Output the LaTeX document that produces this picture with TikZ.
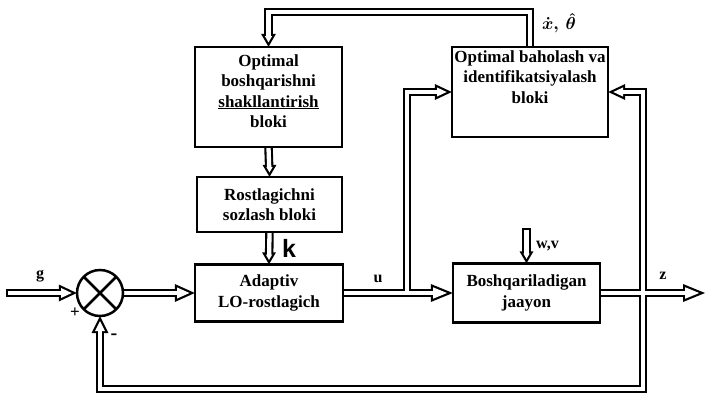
\documentclass[tikz,border=0pt]{standalone}
\usepackage{fontspec}
\setmainfont{Liberation Serif}
\setsansfont{Liberation Sans}
\usetikzlibrary{calc}
\newif\ifblackpass
% arrow head: #1 tip point, #2 canvas angle, #3 length, #4 half width
\newcommand\hd[4]{%
  \begin{scope}[shift={(#1)},rotate=#2]
    \ifblackpass
      \fill[black] (0,0) -- (-#3,#4) -- (-#3,-#4) -- cycle;
    \else
      \pgfmathsetmacro\al{atan(#4/#3)}%
      \pgfmathsetmacro\tb{\dd/sin(\al)}%
      \pgfmathsetmacro\bx{#3-\dd}%
      \pgfmathsetmacro\hw{\bx*#4/#3-\dd/cos(\al)}%
      \fill[white] (-\tb,0) -- (-\bx,\hw) -- (-\bx,-\hw) -- cycle;
    \fi
  \end{scope}}
\newcommand\wires{%
  \draw[ahb,cstart] (gin) -- (sum.west);
  \draw[ahb] (sum.east) -- (adapt.west);
  \draw[ahb] (adapt.east) -- (plant.west);
  \draw[ahb] (j1) |- (opte.west);
  \draw[ahb] (plant.east) -- (zout);
  \draw[ahb] (j2) |- (opte.east);
  \draw[ahb] (j2) -- (j2 |- fb) -- (fb) -- (sum.south);
  \draw[ahs] (opte.north) -- (opte.north |- top) -| (optc.north);
  \draw[ahs] (optc.south) -- (rost.north);
  \draw[ahs] (rost.south) -- (adapt.north);
  \draw[ahs,cstart] (wv) -- (plant.north);
}
\newcommand\heads{%
  \hd{sum.west}{0}{18}{8.5}
  \hd{adapt.west}{0}{20}{9}
  \hd{plant.west}{0}{22}{9}
  \hd{opte.west}{0}{17}{8}
  \hd{zout}{0}{22}{9}
  \hd{opte.east}{180}{17}{8}
  \hd{sum.south}{90}{17}{8.5}
  \hd{optc.north}{-90}{13}{7.5}
  \hd{rost.north}{-90}{12}{7}
  \hd{adapt.north}{-90}{12}{7}
  \hd{plant.north}{-90}{12}{7}
}
\tikzset{
  blk/.style={line width=8.5pt, black},
  wht/.style={line width=4.3pt, white},
  ahb/.style={shorten >=\sB pt},
  ahs/.style={shorten >=\sS pt},
  cstart/.style={shorten <=\cS pt},
  boxtxt/.style={inner sep=0pt, align=center, font=\fontsize{17}{20.5}\selectfont\bfseries},
  box/.style={boxtxt, rectangle},
  frame/.style={line width=2.5pt, line join=miter},
  lbl/.style={inner sep=0pt, font=\fontsize{16}{19}\selectfont\bfseries},
}
\begin{document}
\begin{tikzpicture}[x=1pt,y=-1pt]
\useasboundingbox (0,0) rectangle (707,397);
% blocks
\node[box, minimum width=147pt, minimum height=100pt] (optc) at (268.5,97) {};
\node[boxtxt] (optctxt) at (268.5,91)
  {Optimal\\boshqarishni\\\underline{shakllantirish}\\bloki};
\node[box, minimum width=145pt, minimum height=55pt] (rost) at (269.5,204.5)
  {Rostlagichni\\sozlash bloki};
\node[box, minimum width=148pt, minimum height=57pt] (adapt) at (269,293)
  {Adaptiv\\LO-rostlagich};
\node[box, minimum width=156pt, minimum height=90pt] (opte) at (530,92) {};
\node[boxtxt] (optetxt) at (530,77)
  {Optimal baholash va\\identifikatsiyalash\\bloki};
\node[box, minimum width=147pt, minimum height=59pt] (plant) at (526.5,293)
  {Boshqariladigan\\jaayon};
\node[circle, minimum size=46pt, inner sep=0pt] (sum) at (100,293) {};
% auxiliary points
\coordinate (gin) at (6,293);
\coordinate (zout) at (705,293);
\coordinate (j1) at (407,293);
\coordinate (j2) at (643,293);
\coordinate (fb) at (100,389);
\coordinate (top) at (400,12);
\coordinate (wv) at (526.5,228);
% connectors: two passes for double lines
\begin{scope}[blk]
  \blackpasstrue\def\sB{16}\def\sS{11}\def\cS{0}\def\dd{0}
  \wires \heads
\end{scope}
\begin{scope}[wht]
  \blackpassfalse\def\sB{10}\def\sS{9}\def\cS{2.3}\def\dd{2.2}
  \wires \heads
\end{scope}
% frames on top
\foreach \n in {optc,rost,adapt,opte,plant}
  \draw[frame] (\n.south west) rectangle (\n.north east);
\draw[frame] (sum.center) circle (23pt);
\draw[frame] (sum.north west) -- (sum.south east);
\draw[frame] (sum.north east) -- (sum.south west);
% labels
\node[lbl] (lg) at (40,276) {g};
\node[lbl] (lu) at (378,279) {u};
\node[lbl] (lz) at (663,276) {z};
\node[lbl, anchor=west] (lwv) at (536,246) {w,v};
\node[inner sep=0pt, font=\sffamily\bfseries\fontsize{25}{28}\selectfont] (lk) at (289,248) {k};
\node[inner sep=0pt, font=\fontsize{19}{22}\selectfont\boldmath] (lx) at (559,23) {$\dot{x},\,\hat{\theta}$};
\node[inner sep=0pt, font=\fontsize{17}{19}\selectfont\bfseries] (lp) at (75,313) {+};
\node[inner sep=0pt, font=\fontsize{20}{22}\selectfont\bfseries] (lm) at (114,337) {-};
\end{tikzpicture}
\end{document}
